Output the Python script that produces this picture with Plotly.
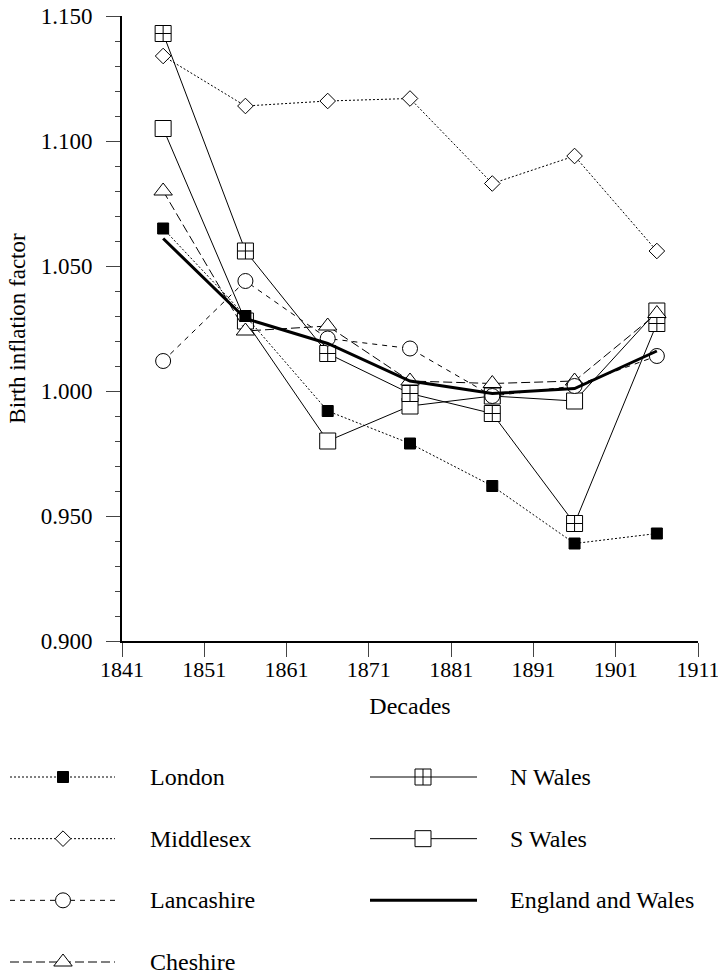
import plotly.graph_objects as go

# ---------------- data ----------------
decades = [1846, 1856, 1866, 1876, 1886, 1896, 1906]
london = [1.065, 1.030, 0.992, 0.979, 0.962, 0.939, 0.943]
middlesex = [1.134, 1.114, 1.116, 1.117, 1.083, 1.094, 1.056]
lancashire = [1.012, 1.044, 1.021, 1.017, 0.998, 1.002, 1.014]
cheshire = [1.080, 1.024, 1.026, 1.004, 1.003, 1.004, 1.031]
n_wales = [1.143, 1.056, 1.015, 0.999, 0.991, 0.947, 1.027]
s_wales = [1.105, 1.028, 0.980, 0.994, 0.998, 0.996, 1.032]
eng_wales = [1.061, 1.029, 1.019, 1.004, 0.999, 1.001, 1.016]

x_tick_vals = [1841, 1851, 1861, 1871, 1881, 1891, 1901, 1911]
y_tick_vals = [0.900, 0.950, 1.000, 1.050, 1.100, 1.150]

# ---------------- styles ----------------
W, H = 718, 976
FONT = "Liberation Serif"
series = [
    # name, values, dash, width, symbol, size, fill, legend col, legend row
    ("S Wales", s_wales, "solid", 1, "square", 16, "white", 1, 1),
    ("N Wales", n_wales, "solid", 1, "square-cross", 16, "white", 1, 0),
    ("Cheshire", cheshire, "9px,4px", 1, "triangle-up", 16, "white", 0, 3),
    ("Lancashire", lancashire, "5px,5px", 1, "circle", 15, "white", 0, 2),
    ("Middlesex", middlesex, "2px,2px", 1, "diamond", 12, "white", 0, 1),
    ("England and Wales", eng_wales, "solid", 3, None, 0, "black", 1, 2),
    ("London", london, "2px,2px", 1, "square", 11, "black", 0, 0),
]

# legend geometry (pixels in the legend sub-axes)
leg_cols = {0: (10, 63, 115, 148), 1: (370, 423, 477, 508)}

fig = go.Figure()
for name, vals, dash, lw, sym, msz, fill, col, row in series:
    mode = "lines+markers" if sym else "lines"
    mk = dict(symbol=sym, size=msz, color=fill, line=dict(color="black", width=1)) if sym else None
    fig.add_trace(go.Scatter(
        x=decades, y=vals, mode=mode, name=name,
        line=dict(color="black", width=lw, dash=dash),
        marker=mk, showlegend=False, xaxis="x", yaxis="y"))
    # custom legend sample
    x0, xm, x1, xt = leg_cols[col]
    fig.add_trace(go.Scatter(
        x=[x0, x1], y=[row, row], mode="lines",
        line=dict(color="black", width=lw, dash=dash),
        showlegend=False, hoverinfo="skip", xaxis="x2", yaxis="y2"))
    if sym:
        fig.add_trace(go.Scatter(
            x=[xm], y=[row], mode="markers", marker=mk,
            showlegend=False, hoverinfo="skip", xaxis="x2", yaxis="y2"))
    fig.add_annotation(x=xt, y=row, xref="x2", yref="y2", text=name,
                       showarrow=False, xanchor="left", yanchor="middle",
                       font=dict(family=FONT, size=24, color="black"))

plot_left, plot_right, plot_top, plot_bottom = 122, 698, 16, 641

fig.update_layout(
    width=W, height=H, template="none",
    margin=dict(l=0, r=0, t=0, b=0),
    paper_bgcolor="white", plot_bgcolor="white",
    font=dict(family=FONT, size=23, color="black"),
    showlegend=False,
    xaxis=dict(
        domain=[plot_left / W, plot_right / W], range=[1841, 1911],
        tickvals=x_tick_vals, ticktext=[str(v) for v in x_tick_vals],
        ticks="outside", ticklen=14, tickwidth=1, tickcolor="#444",
        showline=True, linewidth=2, linecolor="black",
        showgrid=False, zeroline=False, automargin=False,
        ticklabeloverflow="allow", ticklabelstandoff=-6,
        tickfont=dict(size=22),
        title=dict(text="Decades", font=dict(size=24), standoff=16),
        anchor="y",
    ),
    yaxis=dict(
        domain=[(H - plot_bottom) / H, (H - plot_top) / H], range=[0.9, 1.15],
        tickvals=y_tick_vals, tickformat=".3f",
        ticks="outside", ticklen=14, tickwidth=1, tickcolor="#444",
        minor=dict(dtick=0.01, tick0=0.9, ticks="outside", ticklen=5, tickwidth=1, tickcolor="#444", showgrid=False),
        showline=True, linewidth=2, linecolor="black",
        showgrid=False, zeroline=False, automargin=False,
        ticklabeloverflow="allow", ticklabelstandoff=9,
        tickfont=dict(size=23),
        title=dict(text="Birth inflation factor", font=dict(size=23), standoff=9),
        anchor="x",
    ),
    xaxis2=dict(domain=[0, 1], range=[0, W], visible=False, anchor="y2", fixedrange=True),
    yaxis2=dict(domain=[0, (H - 740) / H], range=[3.227, -0.6], visible=False, anchor="x2", fixedrange=True),
)

fig.write_html("out.html", config={"displayModeBar": False},
               post_script="document.body.style.margin='0';document.body.style.overflow='hidden';")
